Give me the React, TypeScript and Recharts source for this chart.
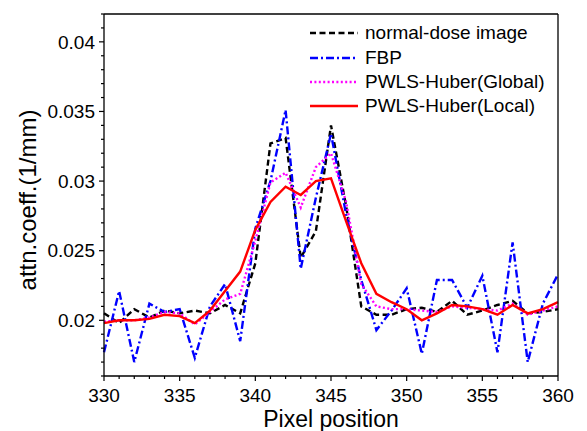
import React from 'react';
import { LineChart, Line, XAxis, YAxis, Legend } from 'recharts';

const pixels = [330, 331, 332, 333, 334, 335, 336, 337, 338, 339, 340, 341, 342, 343, 344, 345, 346, 347, 348, 349, 350, 351, 352, 353, 354, 355, 356, 357, 358, 359, 360];

const normalDose = [0.0205, 0.0198, 0.0208, 0.0202, 0.0207, 0.0205, 0.0207, 0.0205, 0.0211, 0.0205, 0.0241, 0.0327, 0.0331, 0.0245, 0.0264, 0.034, 0.0282, 0.021, 0.0204, 0.0204, 0.0208, 0.0209, 0.0206, 0.0214, 0.0204, 0.0207, 0.0211, 0.0214, 0.0205, 0.0206, 0.0208];
const fbp = [0.0177, 0.0221, 0.017, 0.0212, 0.0206, 0.0208, 0.0173, 0.021, 0.0226, 0.0185, 0.0266, 0.03, 0.0351, 0.0237, 0.0288, 0.0334, 0.0276, 0.0229, 0.0193, 0.0207, 0.0223, 0.0176, 0.0229, 0.0229, 0.0209, 0.0232, 0.0177, 0.0256, 0.017, 0.0212, 0.0233];
const hGlobal = [0.0199, 0.02, 0.02, 0.0202, 0.0206, 0.0205, 0.0197, 0.0206, 0.0215, 0.0219, 0.0257, 0.0299, 0.0306, 0.0281, 0.031, 0.032, 0.0285, 0.0226, 0.021, 0.0208, 0.0208, 0.0207, 0.0206, 0.021, 0.0209, 0.0208, 0.0207, 0.0212, 0.0204, 0.0207, 0.021];
const hLocal = [0.0198, 0.02, 0.02, 0.0201, 0.0204, 0.0203, 0.0198, 0.0207, 0.0221, 0.0235, 0.0265, 0.0285, 0.0296, 0.029, 0.03, 0.0302, 0.0271, 0.0241, 0.0219, 0.0213, 0.0208, 0.02, 0.0205, 0.0211, 0.021, 0.0208, 0.0204, 0.0211, 0.0205, 0.0208, 0.0213];

const xTicks = [330, 331, 332, 333, 334, 335, 336, 337, 338, 339, 340, 341, 342, 343, 344, 345, 346, 347, 348, 349, 350, 351, 352, 353, 354, 355, 356, 357, 358, 359, 360];
const yTicks = [0.016, 0.017, 0.018, 0.019, 0.02, 0.021, 0.022, 0.023, 0.024, 0.025, 0.026, 0.027, 0.028, 0.029, 0.03, 0.031, 0.032, 0.033, 0.034, 0.035, 0.036, 0.037, 0.038, 0.039, 0.04, 0.041, 0.042];

const series = [
  { key: 'normal', name: 'normal-dose image', color: '#000000', dash: '6 3.5' },
  { key: 'fbp', name: 'FBP', color: '#0000ff', dash: '8 3 2 3' },
  { key: 'global', name: 'PWLS-Huber(Global)', color: '#ff00ff', dash: '2 2.4' },
  { key: 'local', name: 'PWLS-Huber(Local)', color: '#ff0000', dash: undefined },
];

const data = pixels.map((p, i) => ({
  pixel: p,
  normal: normalDose[i],
  fbp: fbp[i],
  global: hGlobal[i],
  local: hLocal[i],
}));

const FONT = '"Liberation Sans", Arial, sans-serif';
const isMajorX = (v: number) => v % 5 === 0;
const isMajorY = (v: number) => Math.round(v * 1000) % 5 === 0;

// ticks point outward on all four sides, longer on major positions
const makeTick = (side: 'bottom' | 'top' | 'left' | 'right') => (props: any) => {
  const { x, y, payload } = props;
  const v = payload.value;
  const major = side === 'bottom' || side === 'top' ? isMajorX(v) : isMajorY(v);
  const len = major ? 5 : 3;
  let line;
  if (side === 'bottom') line = <line x1={x} x2={x} y1={y} y2={y + len} stroke="#000" strokeWidth={1.2} />;
  else if (side === 'top') line = <line x1={x} x2={x} y1={y} y2={y - len} stroke="#000" strokeWidth={1.2} />;
  else if (side === 'left') line = <line x1={x} x2={x - len} y1={y} y2={y} stroke="#000" strokeWidth={1.2} />;
  else line = <line x1={x} x2={x + len} y1={y} y2={y} stroke="#000" strokeWidth={1.2} />;
  let label = null;
  if (major && side === 'bottom') {
    label = (
      <text x={x} y={y + 26} textAnchor="middle" fontSize={19} fontFamily={FONT} fill="#000">
        {v}
      </text>
    );
  } else if (major && side === 'left') {
    label = (
      <text x={x - 9} y={y + 6.8} textAnchor="end" fontSize={19} fontFamily={FONT} fill="#000">
        {String(Number(v.toFixed(3)))}
      </text>
    );
  }
  return (
    <g>
      {line}
      {label}
    </g>
  );
};

const LegendBox = () => (
  <div style={{ fontFamily: FONT, fontSize: 19, color: '#000' }}>
    {series.map((s) => (
      <div key={s.key} style={{ height: 24.4, display: 'flex', alignItems: 'center', whiteSpace: 'nowrap' }}>
        <svg width={48} height={6} style={{ marginRight: 7 }}>
          <line x1={0} x2={48} y1={3} y2={3} stroke={s.color} strokeWidth={2.4} strokeDasharray={s.dash} />
        </svg>
        <span>{s.name}</span>
      </div>
    ))}
  </div>
);

export default function App() {
  return (
    <div style={{ position: 'absolute', left: 0, top: 0, background: '#fff' }}>
      <LineChart width={587} height={431} data={data} margin={{ top: 13, right: 28, bottom: 0, left: 0 }}>
        <XAxis
          dataKey="pixel"
          type="number"
          domain={[330, 360]}
          ticks={xTicks}
          interval={0}
          height={55}
          tickSize={0}
          tickMargin={0}
          tickLine={false}
          axisLine={{ stroke: '#000', strokeWidth: 1.3 }}
          tick={makeTick('bottom')}
          label={{
            value: 'Pixel position',
            position: 'insideBottom',
            offset: 4,
            style: { fontFamily: FONT, fontSize: 23, fill: '#000' },
          }}
        />
        <XAxis
          xAxisId="top"
          orientation="top"
          type="number"
          domain={[330, 360]}
          ticks={xTicks}
          interval={0}
          height={1}
          tickSize={0}
          tickMargin={0}
          tickLine={false}
          axisLine={{ stroke: '#000', strokeWidth: 1.3 }}
          tick={makeTick('top')}
        />
        <YAxis
          type="number"
          domain={[0.016, 0.042]}
          ticks={yTicks}
          interval={0}
          width={104}
          tickSize={0}
          tickMargin={0}
          tickLine={false}
          axisLine={{ stroke: '#000', strokeWidth: 1.3 }}
          tick={makeTick('left')}
          label={{
            content: () => (
              <text
                x={27}
                y={200}
                transform="rotate(-90 27 200)"
                textAnchor="middle"
                dominantBaseline="central"
                fontFamily={FONT}
                fontSize={24}
                fill="#000"
              >
                attn.coeff.(1/mm)
              </text>
            ),
          }}
        />
        <YAxis
          yAxisId="right"
          orientation="right"
          type="number"
          domain={[0.016, 0.042]}
          ticks={yTicks}
          interval={0}
          width={1}
          tickSize={0}
          tickMargin={0}
          tickLine={false}
          axisLine={{ stroke: '#000', strokeWidth: 1.3 }}
          tick={makeTick('right')}
        />
        <Legend
          content={<LegendBox />}
          layout="vertical"
          verticalAlign="middle"
          align="center"
          wrapperStyle={{ top: 21, left: 310, width: 260 }}
        />
        {series.map((s) => (
          <Line
            key={s.key}
            dataKey={s.key}
            name={s.name}
            type="linear"
            stroke={s.color}
            strokeWidth={2.4}
            strokeDasharray={s.dash}
            dot={false}
            activeDot={false}
            isAnimationActive={false}
          />
        ))}
      </LineChart>
    </div>
  );
}
